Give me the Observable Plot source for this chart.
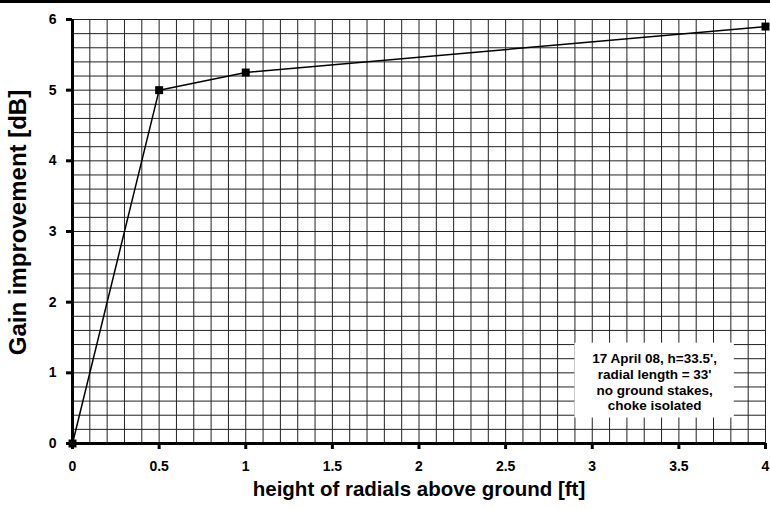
<!DOCTYPE html>
<html>
<head>
<meta charset="utf-8">
<script src="https://cdn.jsdelivr.net/npm/d3@7"></script>
<script src="https://cdn.jsdelivr.net/npm/@observablehq/plot@0.6"></script>
<style>
  html, body { margin: 0; padding: 0; background: #fff; }
  #wrap { position: relative; width: 770px; height: 509px; }
  #topbar { position: absolute; left: 0; top: 0; width: 770px; height: 3px; background: #000; }
</style>
</head>
<body>
<div id="wrap"><div id="topbar"></div></div>
<script>
const heights = [0, 0.5, 1, 4];
const gains = [0, 5.0, 5.25, 5.9];
const xTicks = [0, 0.5, 1, 1.5, 2, 2.5, 3, 3.5, 4];
const yTicks = [0, 1, 2, 3, 4, 5, 6];
const xGrid = [0.1,0.2,0.3,0.4,0.5,0.6,0.7,0.8,0.9,1,1.1,1.2,1.3,1.4,1.5,1.6,1.7,1.8,1.9,2,2.1,2.2,2.3,2.4,2.5,2.6,2.7,2.8,2.9,3,3.1,3.2,3.3,3.4,3.5,3.6,3.7,3.8,3.9,4];
const yGrid = [0.2,0.4,0.6,0.8,1,1.2,1.4,1.6,1.8,2,2.2,2.4,2.6,2.8,3,3.2,3.4,3.6,3.8,4,4.2,4.4,4.6,4.8,5,5.2,5.4,5.6,5.8,6];
const xLabel = "height of radials above ground [ft]";
const yLabel = "Gain improvement [dB]";
const noteLines = ["17 April 08, h=33.5',", "radial length = 33'", "no ground stakes,", "choke isolated"];
const noteBox = {x1: 2.9, x2: 3.82, y1: 0.36, y2: 1.42};
const noteX = 3.36;
const noteY = [1.2, 0.98, 0.75, 0.53];

const data = heights.map((h, i) => ({h, g: gains[i]}));
const notes = noteLines.map((t, i) => ({t, x: noteX, y: noteY[i]}));

const chart = Plot.plot({
  width: 770,
  height: 509,
  marginLeft: 72,
  marginRight: 5,
  marginTop: 19,
  marginBottom: 66,
  style: {fontFamily: "'Liberation Sans', Arial, sans-serif", fontSize: "14px", fontWeight: "bold", color: "#000", background: "#fff"},
  x: {domain: [0, 4]},
  y: {domain: [0, 6]},
  marks: [
    Plot.ruleX(xGrid, {stroke: "#222", strokeWidth: 1}),
    Plot.ruleY(yGrid, {stroke: "#222", strokeWidth: 1}),
    Plot.rect([noteBox], {x1: "x1", x2: "x2", y1: "y1", y2: "y2", fill: "#fff"}),
    Plot.text(notes, {x: "x", y: "y", text: "t", fontSize: 13.5, fontWeight: "bold", fill: "#000"}),
    Plot.axisX({ticks: xTicks, tickFormat: d => String(d), tickSize: 6, tickPadding: 12, strokeWidth: 3, label: null, fontSize: 14}),
    Plot.axisY({ticks: yTicks, tickFormat: () => "", tickSize: 6, strokeWidth: 3, label: null}),
    Plot.text(yTicks, {y: d => d, text: d => String(d), frameAnchor: "left", textAnchor: "end", dx: -16, fontSize: 14, fontWeight: "bold", fill: "#000"}),
    Plot.ruleY([0], {stroke: "#000", strokeWidth: 3}),
    Plot.ruleX([0], {stroke: "#000", strokeWidth: 3}),
    Plot.line(data, {x: "h", y: "g", stroke: "#000", strokeWidth: 1.5}),
    Plot.dot(data, {x: "h", y: "g", symbol: "square", r: 4.5, fill: "#000", stroke: "none"}),
    Plot.text([xLabel], {frameAnchor: "bottom", dy: 52, text: d => d, fontSize: 20.5, fontWeight: "bold", fill: "#000"}),
    Plot.text([yLabel], {frameAnchor: "left", textAnchor: "middle", dx: -54, dy: -9, rotate: -90, text: d => d, fontSize: 24, fontWeight: "bold", fill: "#000"})
  ]
});
document.getElementById("wrap").appendChild(chart);
</script>
</body>
</html>
